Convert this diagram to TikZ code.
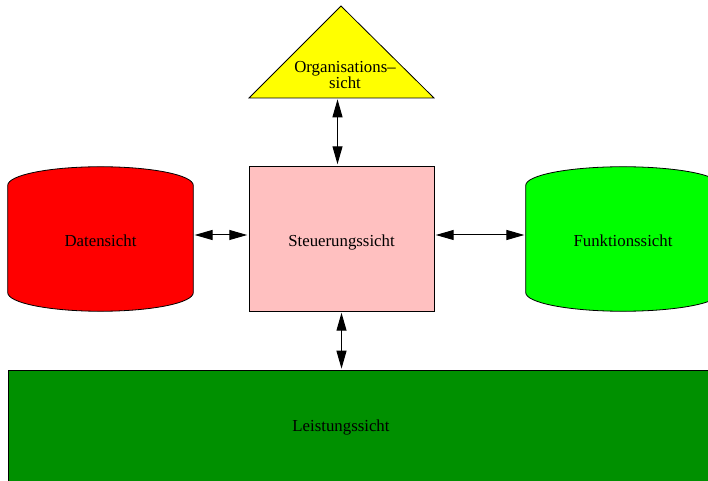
\documentclass[tikz,border=0pt]{standalone}
\usepackage{fontspec}
\setmainfont{Liberation Serif}
\usetikzlibrary{arrows.meta,calc,backgrounds}
\definecolor{viewred}{RGB}{255,0,0}
\definecolor{viewpink}{RGB}{255,192,192}
\definecolor{viewgreen}{RGB}{0,255,0}
\definecolor{viewdkgreen}{RGB}{0,144,0}
\definecolor{viewyellow}{RGB}{255,255,0}
\tikzset{%
  viewbox/.style = {shape=rectangle, draw, line width=0.6pt, text height=11.5pt,%
                    minimum width=138.75pt, minimum height=108.75pt},%
  store/.style   = {shape=rectangle, inner sep=0pt, text height=12pt,%
                    minimum width=138.75pt, minimum height=108pt},%
  link/.style    = {{Triangle[length=13.5pt,width=7.5pt]}-{Triangle[length=13.5pt,width=7.5pt]},%
                    line width=0.75pt, shorten <=1pt, shorten >=1pt}%
}
\newcommand{\drawstore}[2]{%
  \filldraw[fill=#2, line width=0.6pt]
    let \p1=(#1.north west), \p2=(#1.south east), \n1={(\x2-\x1)/2} in
    (\x1,\y1-14pt) arc[start angle=180, end angle=0, x radius=\n1, y radius=14pt]
    -- (\x2,\y2+14pt) arc[start angle=0, end angle=-180, x radius=\n1, y radius=14pt]
    -- cycle;}

\begin{document}
\begin{tikzpicture}[x=0.75pt,y=-0.75pt,
    every node/.style = {font=\fontsize{12.6pt}{11.25pt}\selectfont, align=center, text depth=0pt}]
  \useasboundingbox (0,0) rectangle (708,481);
  \clip (0,0) rectangle (708,481);
  % top triangle
  \coordinate (orga-l) at (249,98);
  \coordinate (orga-t) at (341,6);
  \coordinate (orga-r) at (434,98);
  \filldraw[fill=viewyellow, line width=0.6pt] (orga-l) -- (orga-t) -- (orga-r) -- cycle;
  \node (orga) at (345,75) {Organisations--\\sicht};
  % middle row
  \node[viewbox, fill=viewpink] (steuer) at (341.5,238.5) {Steuerungssicht};
  \node[store] (daten) at (100.5,239) {Datensicht};
  \node[store, minimum width=145.5pt] (funk) at (623,239) {Funktionssicht};
  \begin{pgfonlayer}{background}
    \drawstore{daten}{viewred}
    \drawstore{funk}{viewgreen}
  \end{pgfonlayer}
  % bottom bar
  \node[viewbox, fill=viewdkgreen, anchor=north west,
        minimum width=560pt, minimum height=100pt] (leist) at (8,370) {};
  \node (leisttext) at (341,426) {Leistungssicht};
  % links
  \coordinate (orgabase) at (337.5,98);
  \coordinate (midrow) at (0,235);
  \draw[link] (orgabase) -- (orgabase |- steuer.north);
  \draw[link] (daten.east |- midrow) -- (steuer.west |- midrow);
  \draw[link] (steuer.east |- midrow) -- (funk.west |- midrow);
  \draw[link] (steuer.south) -- (leist.north -| steuer.south);
\end{tikzpicture}
\end{document}
